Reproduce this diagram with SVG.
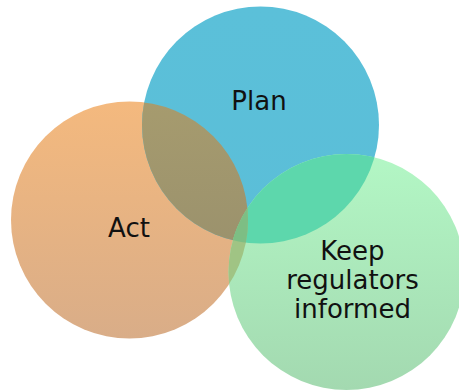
<svg xmlns="http://www.w3.org/2000/svg" width="459" height="391" viewBox="0 0 459 391">
<style>
.lbl{font-family:"DejaVu Sans",Verdana,sans-serif;font-size:26px;fill:#111;text-anchor:middle}
</style>
<defs>
<linearGradient id="gAct" x1="0" y1="0" x2="0" y2="1"><stop offset="0" stop-color="#F4B97E"/><stop offset="1" stop-color="#D9AD88"/></linearGradient>
<linearGradient id="gPlan" x1="0" y1="0" x2="0" y2="1"><stop offset="0" stop-color="#5BC0D9"/><stop offset="1" stop-color="#5BBED8"/></linearGradient>
<linearGradient id="gKeep" x1="0" y1="0" x2="0" y2="1"><stop offset="0" stop-color="#B3F7C5"/><stop offset="1" stop-color="#A3D9B0"/></linearGradient>
<linearGradient id="gAP" x1="0" y1="0" x2="0" y2="1"><stop offset="0" stop-color="#A69B6E"/><stop offset="1" stop-color="#948C6C"/></linearGradient>
<clipPath id="cPlan"><circle cx="260.5" cy="125" r="118.5"/></clipPath>
<clipPath id="cAct"><circle cx="129.5" cy="220" r="118.5"/></clipPath>
<clipPath id="cKeep"><circle cx="346.5" cy="272" r="118"/></clipPath>
</defs>
<g id="act"><circle cx="129.5" cy="220" r="118.5" fill="url(#gAct)"/></g>
<g id="plan"><circle cx="260.5" cy="125" r="118.5" fill="url(#gPlan)"/></g>
<g id="keep"><circle cx="346.5" cy="272" r="118" fill="url(#gKeep)"/></g>
<g id="overlaps">
<circle cx="129.5" cy="220" r="118.5" fill="url(#gAP)" clip-path="url(#cPlan)"/>
<g clip-path="url(#cPlan)"><circle cx="346.5" cy="272" r="118" fill="#5DD7AC"/></g>
<g clip-path="url(#cAct)"><circle cx="346.5" cy="272" r="118" fill="#A0C484"/>
<g clip-path="url(#cPlan)"><circle cx="346.5" cy="272" r="118" fill="#7DBE84"/></g></g>
</g>
<g id="labels">
<text class="lbl" x="259" y="109.5">Plan</text>
<text class="lbl" x="129" y="236.5">Act</text>
<text class="lbl" x="352.5" y="259.5">Keep</text>
<text class="lbl" x="352.5" y="289">regulators</text>
<text class="lbl" x="352.5" y="318">informed</text>
</g>
</svg>
